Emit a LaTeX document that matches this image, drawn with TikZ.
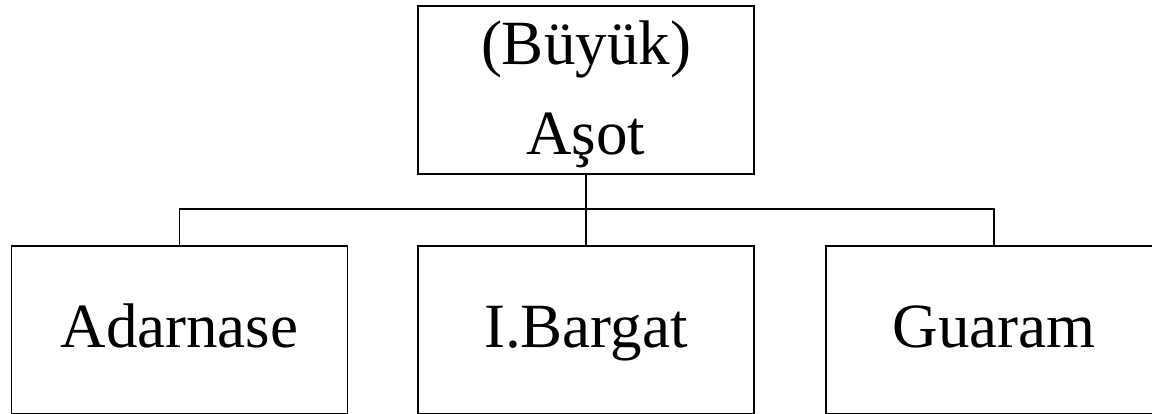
\documentclass[tikz,border=0pt]{standalone}
\usepackage{fontspec}
\setmainfont{Liberation Serif}
\usetikzlibrary{positioning}

\begin{document}
\begin{tikzpicture}[x=1pt,y=1pt,
    b/.style ={
        draw,
        line width=1.6pt,
        minimum width=336pt,
        minimum height=168pt,
        inner sep=0pt,
        align=center,
        font=\fontsize{63}{90}\selectfont
    },
    low/.style ={
        text height=36pt,
        text depth=0pt
    }
    ]
    \useasboundingbox (0,0) rectangle (1152,414);
    \clip (0,0) rectangle (1152,414);
    \node[b,text depth=5pt] (T) at (586,324) {(Büyük)\\Aşot};

    \foreach \x/ \pos/ \name in {{L/(179.5,84)/Adarnase}, {M/(586,84)/I.Bargat}, {R/(994,84)/Guaram}}
        \node[b,low] (\x) at \pos {\name};

    \draw[line width=1.6pt] (T.south) -- (M.north);
    \draw[line width=1.6pt] (L.north) -- ++(0,36) -| (R.north);
\end{tikzpicture}
\end{document}
